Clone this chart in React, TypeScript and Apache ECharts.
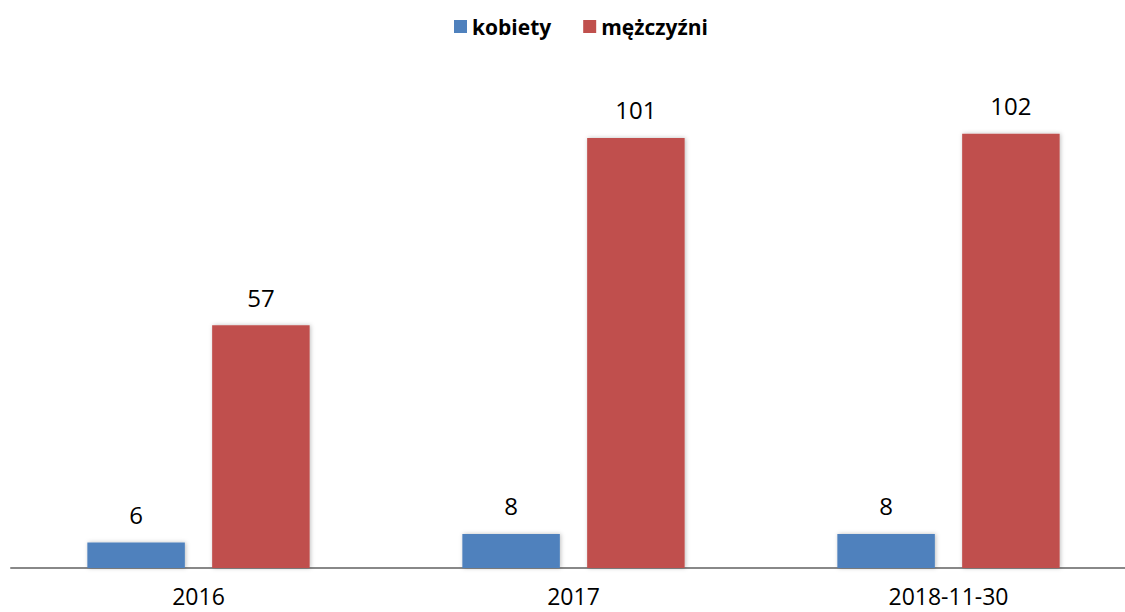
import React, { useEffect, useRef } from "react";
import * as echarts from "echarts";

const categories = ["2016", "2017", "2018-11-30"];
const kobiety = [6, 8, 8];
const mezczyzni = [57, 101, 102];
const seriesNames = ["kobiety", "mężczyźni"];

const FONT = "'Open Sans', 'Liberation Sans', Arial, sans-serif";

export default function App() {
  const ref = useRef<HTMLDivElement>(null);
  useEffect(() => {
    if (!ref.current) return;
    const chart = echarts.init(ref.current, undefined, { renderer: "svg" });
    const shadow = {
      shadowBlur: 4,
      shadowColor: "rgba(0,0,0,0.25)",
      shadowOffsetX: 1,
      shadowOffsetY: 0,
    };
    const label = {
      show: true,
      position: "top" as const,
      distance: 16,
      fontSize: 24,
      fontFamily: FONT,
      color: "#000",
    };
    chart.setOption({
      animation: false,
      textStyle: { fontFamily: FONT },
      legend: {
        data: seriesNames,
        top: 11,
        left: 449,
        icon: "rect",
        itemWidth: 13,
        itemHeight: 13,
        itemGap: 32,
        textStyle: { fontSize: 21, color: "#000", fontFamily: FONT, fontWeight: "bold" },
      },
      grid: { left: 11, width: 1125, top: 57, bottom: 44, containLabel: false },
      xAxis: {
        type: "category",
        data: categories,
        axisLine: { show: true, lineStyle: { color: "#888", width: 2 } },
        axisTick: { show: false },
        axisLabel: { fontSize: 23, lineHeight: 23, color: "#000", margin: 16, fontFamily: FONT },
      },
      yAxis: {
        type: "value",
        min: 0,
        max: 120,
        show: false,
        splitLine: { show: false },
      },
      series: [
        {
          name: seriesNames[0],
          type: "bar",
          data: kobiety,
          barWidth: "26%",
          barGap: "28%",
          itemStyle: { color: "#4F81BD", ...shadow },
          label,
        },
        {
          name: seriesNames[1],
          type: "bar",
          data: mezczyzni,
          barWidth: "26%",
          itemStyle: { color: "#C0504D", ...shadow },
          label,
        },
      ],
    });
    return () => chart.dispose();
  }, []);
  return (
    <div style={{ position: "absolute", left: 0, top: 0, width: 1125, height: 612, overflow: "hidden" }}>
      <div ref={ref} style={{ width: 1150, height: 612 }} />
    </div>
  );
}
